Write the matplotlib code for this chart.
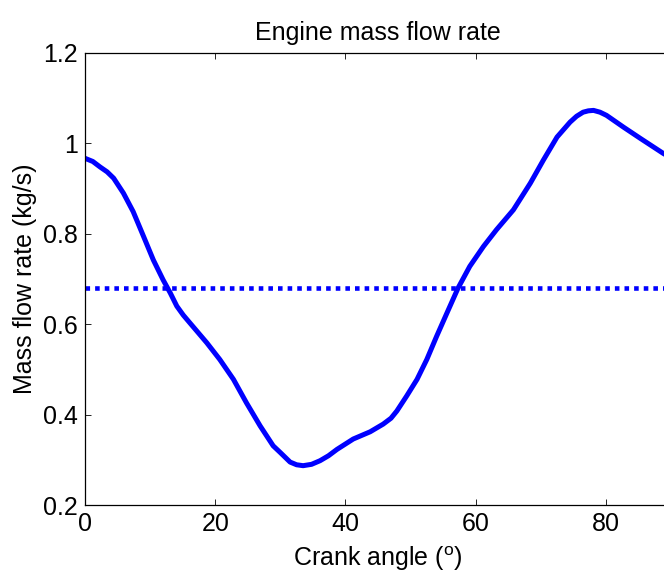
import matplotlib.pyplot as plt

plt.rcParams['font.family'] = ['Liberation Sans', 'DejaVu Sans']
plt.rcParams['mathtext.default'] = 'regular'

# Crank angle (deg) and engine mass flow rate (kg/s)
crank_angle = [0, 1.2, 2.3, 3.4, 4.4, 5.9, 7.4, 9.0, 10.5, 12.0, 13.1, 14.1,
               15.1, 16.1, 17.4, 18.7, 20.7, 22.8, 24.8, 26.9, 28.9, 30.0,
               31.5, 32.5, 33.5, 34.8, 36.1, 37.4, 38.7, 41.2, 43.8, 45.8,
               47.0, 47.9, 49.4, 51.0, 52.5, 54.0, 55.6, 57.3, 59.1, 61.2,
               63.2, 65.8, 68.4, 70.4, 72.5, 74.5, 75.5, 76.5, 77.3, 78.1,
               79.1, 80.1, 82.7, 85.3, 88.8, 90]
mass_flow = [0.967, 0.960, 0.948, 0.937, 0.923, 0.890, 0.849, 0.794, 0.742,
             0.698, 0.669, 0.640, 0.620, 0.603, 0.581, 0.559, 0.522, 0.478,
             0.426, 0.375, 0.331, 0.316, 0.295, 0.289, 0.287, 0.290, 0.298,
             0.309, 0.323, 0.346, 0.362, 0.379, 0.392, 0.408, 0.441, 0.478,
             0.522, 0.573, 0.625, 0.680, 0.728, 0.772, 0.809, 0.853, 0.912,
             0.963, 1.014, 1.047, 1.060, 1.069, 1.072, 1.073, 1.069, 1.062,
             1.036, 1.011, 0.978, 0.968]
mean_flow = 0.68

x_ticks = [0, 20, 40, 60, 80]
y_ticks = [0.2, 0.4, 0.6, 0.8, 1.0, 1.2]
y_tick_labels = ['0.2', '0.4', '0.6', '0.8', '1', '1.2']

fig = plt.figure(figsize=(6.64, 5.74), dpi=100)
ax = fig.add_axes([0.128, 0.1202, 0.8825, 0.7875])

ax.plot(crank_angle, mass_flow, color='#0000ff', lw=3.6,
        solid_capstyle='round', solid_joinstyle='round')
ax.axhline(mean_flow, color='#0000ff', lw=3.3, linestyle=(0, (1, 1.1)),
           dash_capstyle='butt')

ax.set_xlim(0, 90)
ax.set_ylim(0.2, 1.2)
ax.set_xticks(x_ticks)
ax.set_yticks(y_ticks)
ax.set_yticklabels(y_tick_labels)
ax.tick_params(direction='in', length=4, width=0.6, top=True, right=True,
               labelsize=18, pad=5)
for s in ax.spines.values():
    s.set_linewidth(0.9)

ax.set_title('Engine mass flow rate', fontsize=18, pad=9)
ax.set_xlabel('Crank angle ($^{o}$)', fontsize=18)
ax.set_ylabel('Mass flow rate (kg/s)', fontsize=18)
ax.xaxis.set_label_coords(0.5, -0.088)
ax.yaxis.set_label_coords(-0.082, 0.5)

fig.savefig('out.png', dpi=100)
